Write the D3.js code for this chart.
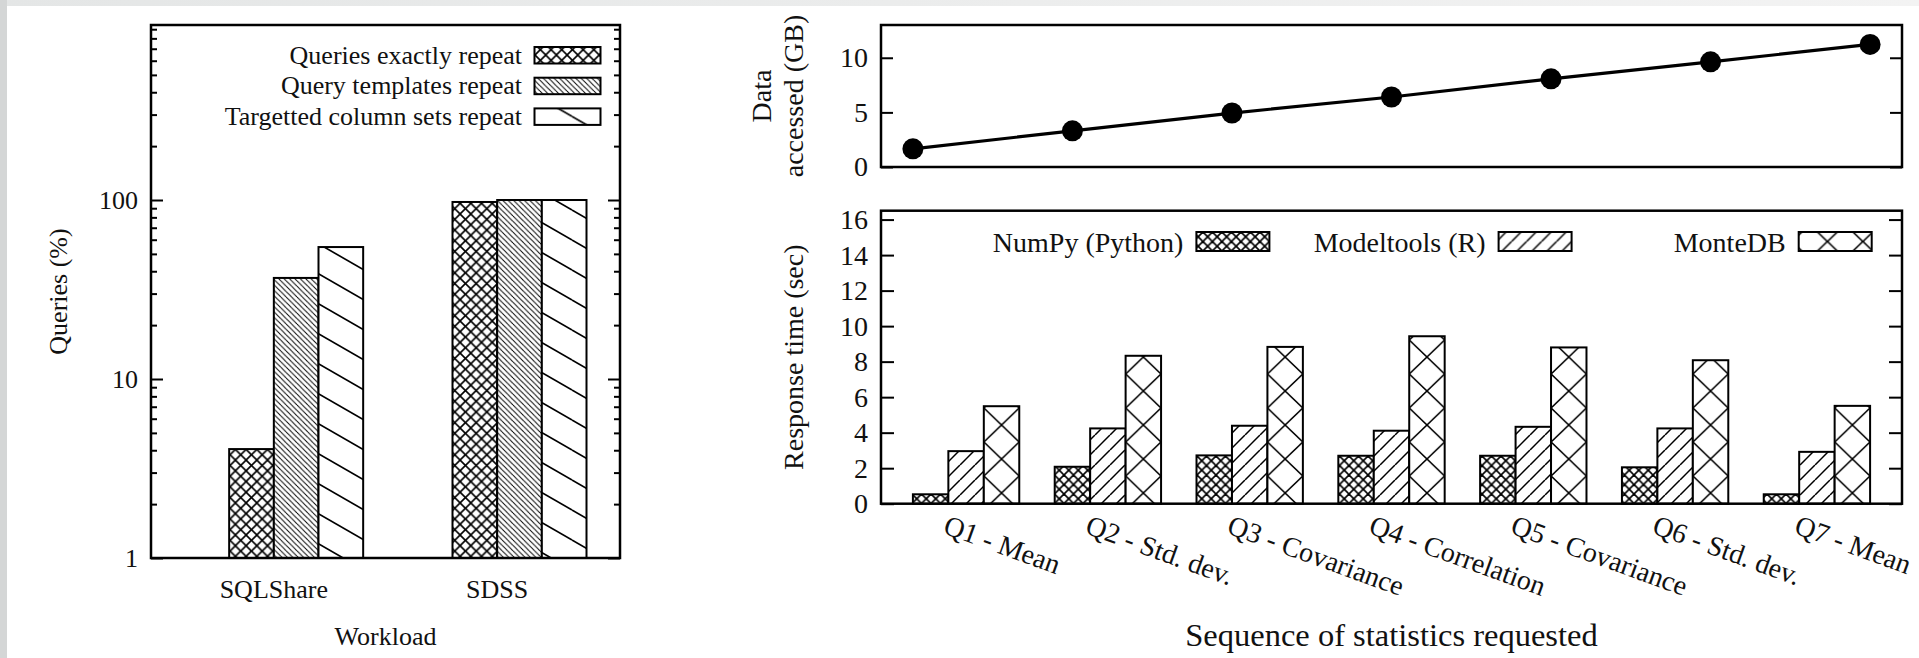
<!DOCTYPE html>
<html>
<head>
<meta charset="utf-8">
<script src="https://cdn.jsdelivr.net/npm/d3@7"></script>
<style>
  body { margin: 0; background: #fff; }
  svg { display: block; }
  text { font-family: "Liberation Serif", "DejaVu Serif", serif; fill: #111; }
</style>
</head>
<body>
<div id="chart"></div>
<script>
// ---- data ----
const workloads = ["SQLShare", "SDSS"];
const repeatKinds = ["Queries exactly repeat", "Query templates repeat", "Targetted column sets repeat"];
const exactRepeat = [4.06, 97.5];
const templateRepeat = [36.7, 100];
const columnSetRepeat = [54.6, 100];
const logTicks = [1, 10, 100];

const statistics = ["Q1 - Mean", "Q2 - Std. dev.", "Q3 - Covariance", "Q4 - Correlation",
                    "Q5 - Covariance", "Q6 - Std. dev.", "Q7 - Mean"];
const dataAccessed = [1.66, 3.31, 4.94, 6.41, 8.07, 9.63, 11.22];
const systems = ["NumPy (Python)", "Modeltools (R)", "MonteDB"];
const numpyTime = [0.53, 2.08, 2.72, 2.70, 2.70, 2.05, 0.53];
const modeltoolsTime = [2.96, 4.24, 4.39, 4.11, 4.33, 4.24, 2.92];
const montedbTime = [5.49, 8.33, 8.83, 9.43, 8.80, 8.08, 5.51];
const gbTicks = [0, 5, 10];
const timeTicks = [0, 2, 4, 6, 8, 10, 12, 14, 16];

const W = 1919, H = 658;
const FONT = "'Liberation Serif', 'DejaVu Serif', serif";
const svg = d3.select("#chart").append("svg").attr("width", W).attr("height", H);

// grey page frame
const grad = svg.append("defs").append("linearGradient").attr("id", "topStrip");
grad.append("stop").attr("offset", "0").attr("stop-color", "#e4e6e6");
grad.append("stop").attr("offset", "1").attr("stop-color", "#f3f3f3");
svg.append("rect").attr("width", W).attr("height", H).attr("fill", "#fff");
svg.append("rect").attr("width", W).attr("height", 6).attr("fill", "url(#topStrip)");
svg.append("rect").attr("width", 7).attr("height", H).attr("fill", "#d4d6d6");

const defs = svg.append("defs");

// hatch pattern: kind "\\", "/", "x"
function hatch(id, w, h, kind, sw, x0) {
  const p = defs.append("pattern").attr("id", id)
    .attr("patternUnits", "userSpaceOnUse")
    .attr("width", w).attr("height", h)
    .attr("x", x0 || 0).attr("y", 0);
  p.append("rect").attr("width", w).attr("height", h).attr("fill", "#fff");
  const segs = [];
  for (let k = -1; k <= 1; k++) {
    if (kind == "\\" || kind == "x") segs.push([0, k * h, w, (k + 1) * h]);
    if (kind == "/" || kind == "x") segs.push([0, (k + 1) * h, w, k * h]);
  }
  segs.forEach(s => p.append("line")
    .attr("x1", s[0]).attr("y1", s[1]).attr("x2", s[2]).attr("y2", s[3])
    .attr("stroke", "#000").attr("stroke-width", sw));
}

function styleAxis(g, size) {
  g.select(".domain").remove();
  g.selectAll("line").attr("stroke", "#000").attr("stroke-width", 2);
  g.selectAll("text").style("font-size", size + "px").attr("fill", "#111")
    .style("font-family", FONT);
}

// ================= left chart: repeats (log scale) =================
const L = { left: 151, right: 620, top: 25, bottom: 558 };
const lx = d3.scaleLinear().domain([-0.65, 1.45]).range([L.left, L.right]);
const ly = d3.scaleLog().domain([1, 950]).range([L.bottom, L.top]);
const lBarW = lx(0.2) - lx(0);

hatch("pExact", 10.7, 10.7, "x", 1.6);
hatch("pTemplate", 5.4, 5.4, "\\", 1.0);
hatch("pColumn", 52, 30, "\\", 1.6);
const leftFills = ["url(#pExact)", "url(#pTemplate)", "url(#pColumn)"];
const leftSeries = [exactRepeat, templateRepeat, columnSetRepeat];

const gl = svg.append("g");
leftSeries.forEach((vals, k) => {
  gl.selectAll(".lbar" + k).data(vals).enter().append("rect")
    .attr("x", (d, i) => lx(i - 0.3 + 0.2 * k))
    .attr("width", lBarW)
    .attr("y", d => ly(d))
    .attr("height", d => ly(1) - ly(d))
    .attr("fill", leftFills[k])
    .attr("stroke", "#000").attr("stroke-width", 2);
});

// minor log ticks
const minorTicks = [];
[1, 10, 100].forEach(dec => { for (let m = 2; m <= 9; m++) if (dec * m < 950) minorTicks.push(dec * m); });

gl.append("g").attr("transform", `translate(${L.left},0)`)
  .call(d3.axisLeft(ly).tickValues(logTicks).tickFormat(d3.format("d")).tickSizeInner(-12).tickSizeOuter(0).tickPadding(13))
  .call(g => styleAxis(g, 26));
gl.append("g").attr("transform", `translate(${L.left},0)`)
  .call(d3.axisLeft(ly).tickValues(minorTicks).tickFormat("").tickSizeInner(-6).tickSizeOuter(0))
  .call(g => styleAxis(g, 26));
gl.append("g").attr("transform", `translate(${L.right},0)`)
  .call(d3.axisRight(ly).tickValues(logTicks).tickFormat("").tickSizeInner(-12).tickSizeOuter(0))
  .call(g => styleAxis(g, 26));
gl.append("g").attr("transform", `translate(${L.right},0)`)
  .call(d3.axisRight(ly).tickValues(minorTicks).tickFormat("").tickSizeInner(-6).tickSizeOuter(0))
  .call(g => styleAxis(g, 26));

gl.append("rect").attr("x", L.left).attr("y", L.top)
  .attr("width", L.right - L.left).attr("height", L.bottom - L.top)
  .attr("fill", "none").attr("stroke", "#000").attr("stroke-width", 2.5);

gl.selectAll(".wl").data(workloads).enter().append("text")
  .attr("x", (d, i) => lx(i - 0.1)).attr("y", 598)
  .attr("text-anchor", "middle").style("font-size", "26px").text(d => d);
gl.append("text").attr("x", (L.left + L.right) / 2).attr("y", 645)
  .attr("text-anchor", "middle").style("font-size", "26px").text("Workload");
gl.append("text").attr("transform", `translate(67,${(L.top + L.bottom) / 2}) rotate(-90)`)
  .attr("text-anchor", "middle").style("font-size", "26px").text("Queries (%)");

// legend
const lLeg = gl.selectAll(".lleg").data(repeatKinds).enter().append("g")
  .attr("transform", (d, i) => `translate(0,${55 + i * 30.7})`);
lLeg.append("text").attr("x", 522).attr("y", 8.5).attr("text-anchor", "end")
  .style("font-size", "26px").text(d => d);
lLeg.append("rect").attr("x", 534.5).attr("y", -8).attr("width", 66).attr("height", 16.5)
  .attr("fill", (d, i) => leftFills[i]).attr("stroke", "#000").attr("stroke-width", 2);

// ================= right top: data accessed =================
const T = { left: 881, right: 1902, top: 25, bottom: 167 };
const tx = d3.scaleLinear().domain([-0.2, 6.2]).range([T.left, T.right]);
const ty = d3.scaleLinear().domain([0, 13]).range([T.bottom, T.top]);
const gt = svg.append("g");

gt.append("g").attr("transform", `translate(${T.left},0)`)
  .call(d3.axisLeft(ty).tickValues(gbTicks).tickSizeInner(-12).tickSizeOuter(0).tickPadding(13))
  .call(g => styleAxis(g, 28));
gt.append("g").attr("transform", `translate(${T.right},0)`)
  .call(d3.axisRight(ty).tickValues(gbTicks).tickFormat("").tickSizeInner(-12).tickSizeOuter(0))
  .call(g => styleAxis(g, 28));

gt.append("path").datum(dataAccessed)
  .attr("d", d3.line().x((d, i) => tx(i)).y(d => ty(d)))
  .attr("fill", "none").attr("stroke", "#000").attr("stroke-width", 3.2);
gt.selectAll(".pt").data(dataAccessed).enter().append("circle")
  .attr("cx", (d, i) => tx(i)).attr("cy", d => ty(d)).attr("r", 10.5).attr("fill", "#000");

gt.append("rect").attr("x", T.left).attr("y", T.top)
  .attr("width", T.right - T.left).attr("height", T.bottom - T.top)
  .attr("fill", "none").attr("stroke", "#000").attr("stroke-width", 2.5);

const gbLabel = gt.append("text").attr("transform", `translate(0,${(T.top + T.bottom) / 2}) rotate(-90)`)
  .attr("text-anchor", "middle").style("font-size", "28px");
gbLabel.append("tspan").attr("x", 0).attr("y", 771).text("Data");
gbLabel.append("tspan").attr("x", 0).attr("y", 803).text("accessed (GB)");

// ================= right bottom: response time =================
const B = { left: 881, right: 1902, top: 210.7, bottom: 503.7 };
const bx = d3.scaleLinear().domain([-0.6, 6.6]).range([B.left, B.right]);
const by = d3.scaleLinear().domain([0, 16.5]).range([B.bottom, B.top]);
const bBarW = bx(0.25) - bx(0);

hatch("pNumpy", 9.5, 9.5, "x", 1.7);
hatch("pModel", 15, 15, "/", 1.5);
hatch("pMonte", bBarW, 34, "x", 1.6, bx(0.125));
const rightFills = ["url(#pNumpy)", "url(#pModel)", "url(#pMonte)"];
const rightSeries = [numpyTime, modeltoolsTime, montedbTime];

const gb = svg.append("g");
rightSeries.forEach((vals, k) => {
  gb.selectAll(".rbar" + k).data(vals).enter().append("rect")
    .attr("x", (d, i) => bx(i - 0.375 + 0.25 * k))
    .attr("width", bBarW)
    .attr("y", d => by(d))
    .attr("height", d => by(0) - by(d))
    .attr("fill", rightFills[k])
    .attr("stroke", "#000").attr("stroke-width", 2);
});

gb.append("g").attr("transform", `translate(${B.left},0)`)
  .call(d3.axisLeft(by).tickValues(timeTicks).tickSizeInner(-13).tickSizeOuter(0).tickPadding(13))
  .call(g => styleAxis(g, 28));
gb.append("g").attr("transform", `translate(${B.right},0)`)
  .call(d3.axisRight(by).tickValues(timeTicks).tickFormat("").tickSizeInner(-13).tickSizeOuter(0))
  .call(g => styleAxis(g, 28));

gb.append("rect").attr("x", B.left).attr("y", B.top)
  .attr("width", B.right - B.left).attr("height", B.bottom - B.top)
  .attr("fill", "none").attr("stroke", "#000").attr("stroke-width", 2.5);

gb.selectAll(".stat").data(statistics).enter().append("text")
  .attr("transform", (d, i) => `translate(${bx(i) - 24},${B.bottom + 29}) rotate(20)`)
  .style("font-size", "28px").text(d => d);

gb.append("text").attr("x", (B.left + B.right) / 2).attr("y", 646)
  .attr("text-anchor", "middle").style("font-size", "32.5px").text("Sequence of statistics requested");
gb.append("text").attr("transform", `translate(803,${(B.top + B.bottom) / 2}) rotate(-90)`)
  .attr("text-anchor", "middle").style("font-size", "28px").text("Response time (sec)");

// legend (one row)
const keyRight = [1269.4, 1571.6, 1871.7];
const rLeg = gb.selectAll(".rleg").data(systems).enter().append("g")
  .attr("transform", (d, i) => `translate(${keyRight[i]},241.5)`);
rLeg.append("text").attr("x", -86).attr("y", 10).attr("text-anchor", "end")
  .style("font-size", "28px").text(d => d);
rLeg.append("rect").attr("x", -73).attr("y", -9.5).attr("width", 73).attr("height", 19)
  .attr("fill", (d, i) => rightFills[i]).attr("stroke", "#000").attr("stroke-width", 2);
</script>
</body>
</html>
